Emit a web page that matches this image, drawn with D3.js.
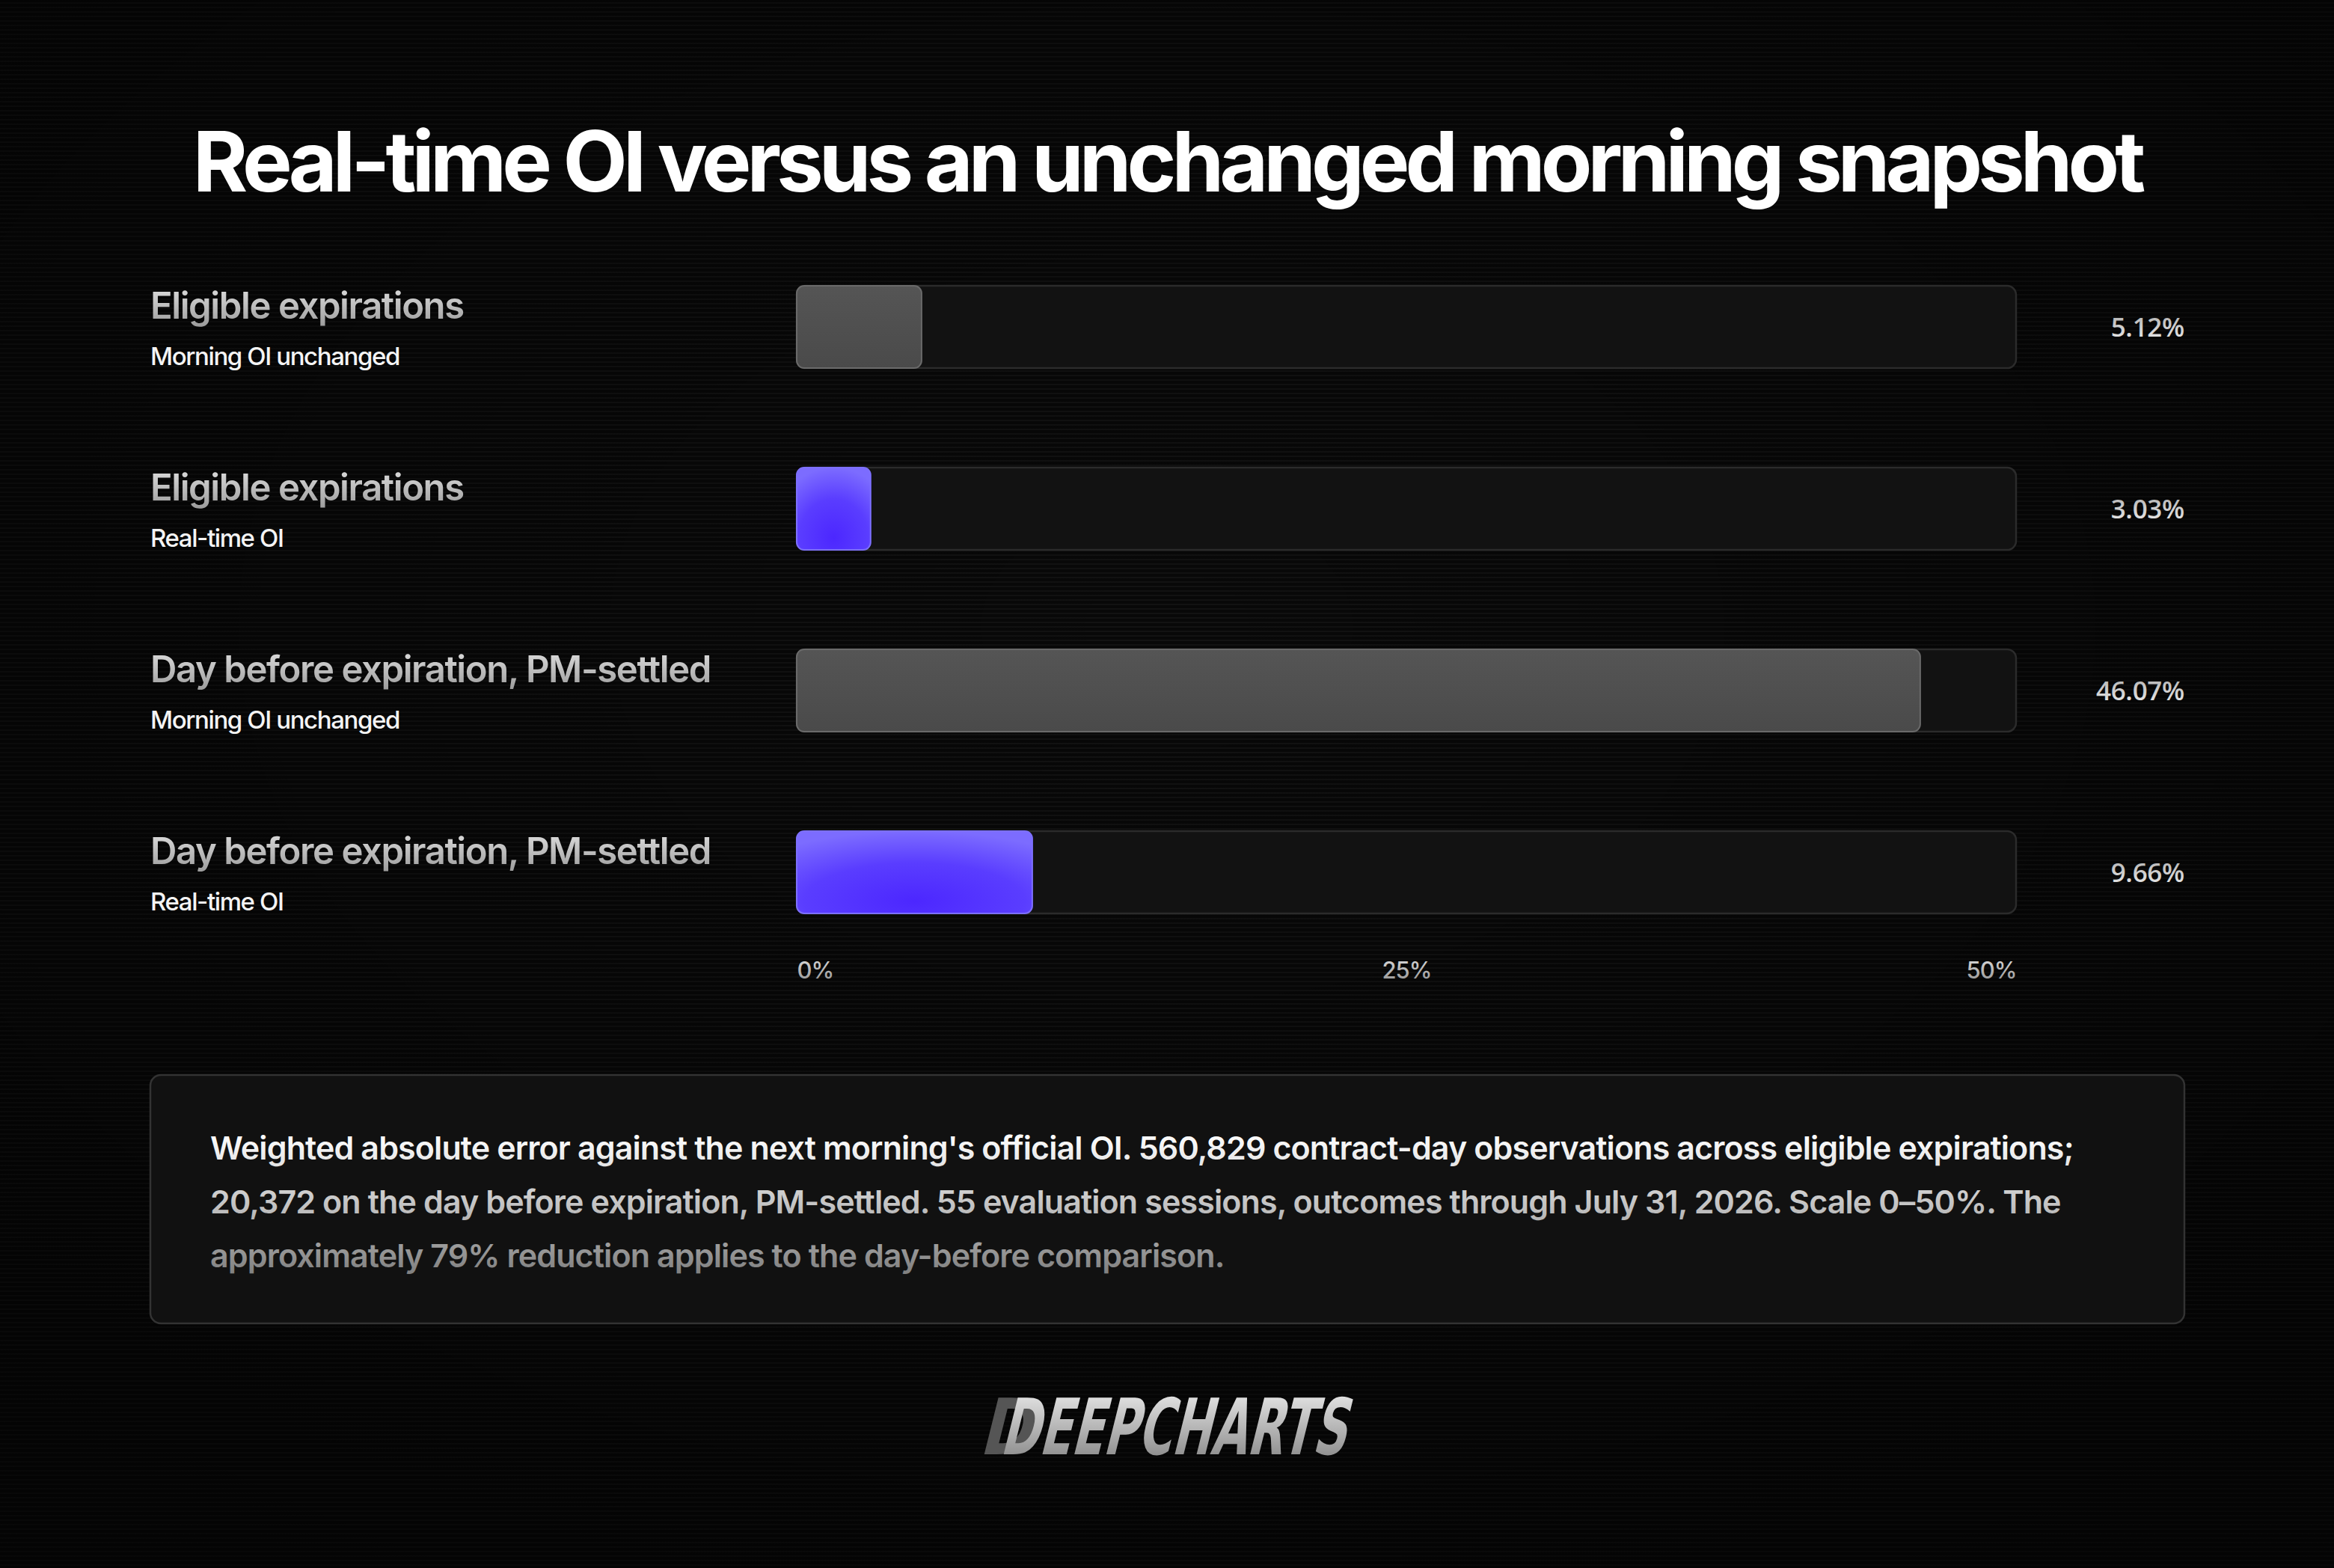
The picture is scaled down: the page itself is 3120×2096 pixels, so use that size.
<!DOCTYPE html>
<html>
<head>
<meta charset="utf-8">
<script src="https://cdn.jsdelivr.net/npm/d3@7"></script>
<style>
  html, body { margin: 0; padding: 0; background: #050505; }
  svg { display: block; }
</style>
</head>
<body>
<div id="chart"></div>
<script>
// ---------- data ----------
const title = "Real-time OI versus an unchanged morning snapshot";
const categories = [
  "Eligible expirations",
  "Eligible expirations",
  "Day before expiration, PM-settled",
  "Day before expiration, PM-settled"
];
const methods = ["Morning OI unchanged", "Real-time OI", "Morning OI unchanged", "Real-time OI"];
const values = [5.12, 3.03, 46.07, 9.66];
const isRealtime = [false, true, false, true];
const tickValues = [0, 25, 50];
const tickLabels = ["0%", "25%", "50%"];
const noteLines = [
  "Weighted absolute error against the next morning's official OI. 560,829 contract-day observations across eligible expirations;",
  "20,372 on the day before expiration, PM-settled. 55 evaluation sessions, outcomes through July 31, 2026. Scale 0\u201350%. The",
  "approximately 79% reduction applies to the day-before comparison."
];
const brand = "DEEPCHARTS";

// ---------- layout ----------
const W = 3120, H = 2096;
const FONT = "Inter, 'Noto Sans', sans-serif";

const svg = d3.select("#chart").append("svg")
  .attr("width", W).attr("height", H).attr("viewBox", `0 0 ${W} ${H}`);

const defs = svg.append("defs");

// scanline pattern
const pat = defs.append("pattern").attr("id", "scan")
  .attr("width", 8).attr("height", 6).attr("patternUnits", "userSpaceOnUse");
pat.append("rect").attr("width", 8).attr("height", 6).attr("fill", "#080808");
pat.append("rect").attr("y", 3).attr("width", 8).attr("height", 2).attr("fill", "#121212");

const vig = defs.append("radialGradient").attr("id", "vig")
  .attr("cx", "50%").attr("cy", "40%").attr("r", "70%");
vig.append("stop").attr("offset", "0%").attr("stop-color", "#000").attr("stop-opacity", 0);
vig.append("stop").attr("offset", "100%").attr("stop-color", "#000").attr("stop-opacity", 0.55);

const labelGrad = defs.append("linearGradient").attr("id", "labelGrad")
  .attr("x1", 0).attr("y1", 0).attr("x2", 0).attr("y2", 1);
labelGrad.append("stop").attr("offset", "0%").attr("stop-color", "#e2e2e2");
labelGrad.append("stop").attr("offset", "100%").attr("stop-color", "#9a9a9a");

const valGrad = defs.append("linearGradient").attr("id", "valGrad")
  .attr("x1", 0).attr("y1", 0).attr("x2", 0).attr("y2", 1);
valGrad.append("stop").attr("offset", "0%").attr("stop-color", "#a9a9a9");
valGrad.append("stop").attr("offset", "100%").attr("stop-color", "#f0f0f0");

const tickGrad = defs.append("linearGradient").attr("id", "tickGrad")
  .attr("x1", 0).attr("y1", 0).attr("x2", 0).attr("y2", 1);
tickGrad.append("stop").attr("offset", "0%").attr("stop-color", "#e0e0e0");
tickGrad.append("stop").attr("offset", "100%").attr("stop-color", "#8f8f8f");

const purple = defs.append("radialGradient").attr("id", "purple")
  .attr("cx", "50%").attr("cy", "85%").attr("r", "85%");
purple.append("stop").attr("offset", "0%").attr("stop-color", "#4c27ff");
purple.append("stop").attr("offset", "55%").attr("stop-color", "#5a3dff");
purple.append("stop").attr("offset", "100%").attr("stop-color", "#7c6cff");

const grayBar = defs.append("linearGradient").attr("id", "grayBar")
  .attr("x1", 0).attr("y1", 0).attr("x2", 0).attr("y2", 1);
grayBar.append("stop").attr("offset", "0%").attr("stop-color", "#555");
grayBar.append("stop").attr("offset", "100%").attr("stop-color", "#4a4a4a");

const noteGrad = defs.append("linearGradient").attr("id", "noteGrad")
  .attr("gradientUnits", "userSpaceOnUse")
  .attr("x1", 0).attr("y1", 1515).attr("x2", 0).attr("y2", 1705);
noteGrad.append("stop").attr("offset", "0%").attr("stop-color", "#ffffff");
noteGrad.append("stop").attr("offset", "50%").attr("stop-color", "#c4c4c4");
noteGrad.append("stop").attr("offset", "100%").attr("stop-color", "#7e7e7e");

const logoGrad = defs.append("linearGradient").attr("id", "logoGrad")
  .attr("x1", 0).attr("y1", 0).attr("x2", 0).attr("y2", 1);
logoGrad.append("stop").attr("offset", "0%").attr("stop-color", "#f2f2f2");
logoGrad.append("stop").attr("offset", "100%").attr("stop-color", "#7a7a7a");

// background
svg.append("rect").attr("width", W).attr("height", H).attr("fill", "url(#scan)");
svg.append("rect").attr("width", W).attr("height", H).attr("fill", "url(#vig)");

// title
svg.append("text")
  .attr("x", W / 2).attr("y", 256)
  .attr("text-anchor", "middle")
  .attr("font-family", FONT).attr("font-weight", 700)
  .attr("font-size", 112)
  .attr("letter-spacing", "-6px")
  .attr("fill", "#ffffff")
  .text(title);

// scales
const x = d3.scaleLinear().domain([0, 50]).range([1065, 2695]);
const y = d3.scaleBand().domain(d3.range(values.length)).range([382, 1221]).paddingInner(0.547).paddingOuter(0);

const rows = svg.append("g").selectAll("g").data(values).join("g");

// track
rows.append("rect")
  .attr("x", x(0)).attr("y", (d, i) => y(i))
  .attr("width", x(50) - x(0)).attr("height", y.bandwidth())
  .attr("rx", 12)
  .attr("fill", "#121212")
  .attr("stroke", "#2b2b2b").attr("stroke-width", 2.5);

// bar
rows.append("rect")
  .attr("x", x(0)).attr("y", (d, i) => y(i))
  .attr("width", d => x(d) - x(0)).attr("height", y.bandwidth())
  .attr("rx", 10)
  .attr("fill", (d, i) => isRealtime[i] ? "url(#purple)" : "url(#grayBar)")
  .attr("stroke", (d, i) => isRealtime[i] ? "#7d70ff" : "#6a6a6a").attr("stroke-width", 2);

// category labels
rows.append("text")
  .attr("x", 201).attr("y", (d, i) => y(i) + 44)
  .attr("font-family", FONT).attr("font-weight", 600)
  .attr("font-size", 49).attr("letter-spacing", "-1.4px")
  .attr("fill", "url(#labelGrad)")
  .text((d, i) => categories[i]);

rows.append("text")
  .attr("x", 201).attr("y", (d, i) => y(i) + 106)
  .attr("font-family", FONT).attr("font-weight", 500)
  .attr("font-size", 33).attr("letter-spacing", "-1.4px")
  .attr("fill", "#f4f4f4")
  .text((d, i) => methods[i]);

// value labels
rows.append("text")
  .attr("x", 2920).attr("y", (d, i) => y(i) + y.bandwidth() / 2)
  .attr("dy", "0.36em")
  .attr("text-anchor", "end")
  .attr("font-family", "'Open Sans', sans-serif").attr("font-weight", 600)
  .attr("font-size", 35).attr("letter-spacing", "-0.3px")
  .attr("fill", "url(#valGrad)")
  .text(d => d.toFixed(2) + "%");

// axis
const axis = d3.axisBottom(x).tickValues(tickValues).tickSize(0).tickPadding(0)
  .tickFormat((d, i) => tickLabels[i]);
const gAxis = svg.append("g").attr("transform", "translate(0,1286)").call(axis);
gAxis.select(".domain").remove();
gAxis.selectAll("text")
  .attr("font-family", FONT).attr("font-weight", 500)
  .attr("font-size", 31).attr("letter-spacing", "-1px")
  .attr("fill", "url(#tickGrad)")
  .attr("text-anchor", (d, i) => i === 0 ? "start" : (i === tickValues.length - 1 ? "end" : "middle"));

// note box
svg.append("rect")
  .attr("x", 201).attr("y", 1437).attr("width", 2719).attr("height", 332)
  .attr("rx", 14)
  .attr("fill", "#111111").attr("stroke", "#333333").attr("stroke-width", 2.5);

const note = svg.append("text")
  .attr("font-family", FONT).attr("font-weight", 600)
  .attr("font-size", 43).attr("letter-spacing", "-0.9px")
  .attr("fill", "url(#noteGrad)");
note.selectAll("tspan").data(noteLines).join("tspan")
  .attr("x", 281).attr("y", (d, i) => 1550 + i * 72)
  .text(d => d);

// brand
const logo = svg.append("g").attr("transform", "translate(1558,1944) skewX(-14)");
logo.append("text")
  .attr("x", -250).attr("y", 0)
  .attr("font-family", "'DejaVu Sans Condensed', 'Liberation Sans Narrow', sans-serif")
  .attr("font-weight", 700).attr("font-size", 104)
  .attr("fill", "#555")
  .attr("textLength", 70).attr("lengthAdjust", "spacingAndGlyphs")
  .text(brand[0]);
logo.append("text")
  .attr("x", -222).attr("y", 0)
  .attr("font-family", "'DejaVu Sans Condensed', 'Liberation Sans Narrow', sans-serif")
  .attr("font-weight", 700).attr("font-size", 104)
  .attr("fill", "url(#logoGrad)")
  .attr("textLength", 462).attr("lengthAdjust", "spacingAndGlyphs")
  .text(brand);
</script>
</body>
</html>
